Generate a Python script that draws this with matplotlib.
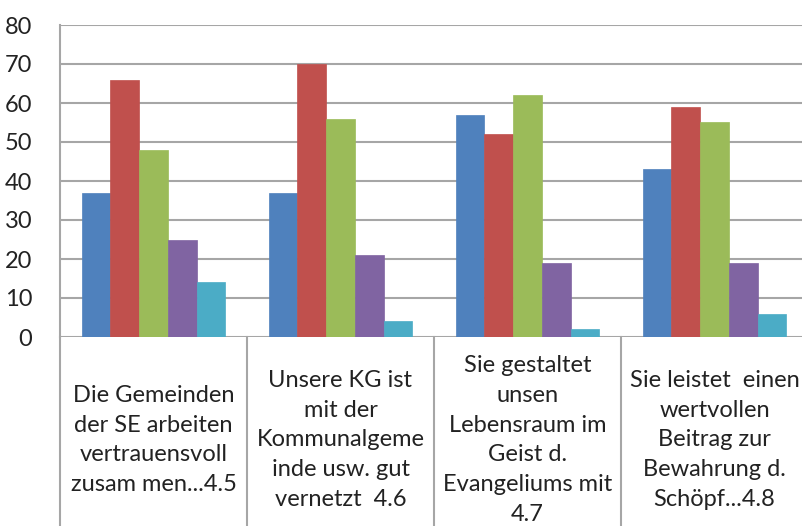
import numpy as np
import matplotlib.pyplot as plt

categories = [
    "Die Gemeinden\nder SE arbeiten\nvertrauensvoll\nzusam men...4.5",
    "Unsere KG ist\nmit der\nKommunalgeme\ninde usw. gut\nvernetzt  4.6",
    "Sie gestaltet\nunsen\nLebensraum im\nGeist d.\nEvangeliums mit\n4.7",
    "Sie leistet  einen\nwertvollen\nBeitrag zur\nBewahrung d.\nSchöpf...4.8",
]
blue = [37, 37, 57, 43]
red = [66, 70, 52, 59]
green = [48, 56, 62, 55]
purple = [25, 21, 19, 19]
cyan = [14, 4, 2, 6]
yticks = [0, 10, 20, 30, 40, 50, 60, 70, 80]

series = [blue, red, green, purple, cyan]
colors = ["#4F81BD", "#C0504D", "#9BBB59", "#8064A2", "#4BACC6"]

plt.rcParams['font.family'] = ['Lato', 'DejaVu Sans']

W, H = 802, 526
fig = plt.figure(figsize=(W / 100, H / 100), dpi=100)
# plot area runs past the right edge like in the source screenshot
ax = fig.add_axes([60 / W, (H - 337) / H, 748 / W, 312 / H])

grid_col = "#a6a6a6"
x = np.arange(len(categories))
bw = 0.77 / len(series)
for j, (vals, c) in enumerate(zip(series, colors)):
    ax.bar(x + (j - 2) * bw, vals, width=bw, color=c, edgecolor=c,
           linewidth=0.5, zorder=3)

ax.set_ylim(0, 80)
ax.set_xlim(-0.5, len(categories) - 0.5)
ax.set_yticks(yticks)
ax.set_yticklabels([str(t) for t in yticks], fontsize=17, color="#222222")
ax.tick_params(axis='y', length=0, pad=20)
ax.set_xticks([])
for y in yticks:
    ax.axhline(y, color=grid_col, lw=1.5, zorder=1)

for s in ["top", "right", "bottom"]:
    ax.spines[s].set_visible(False)
ax.spines["left"].set_color(grid_col)
ax.spines["left"].set_linewidth(1.5)

# category boxes below the axis
tr = ax.get_xaxis_transform()
depth = -(H - 337) / 312
for b in np.arange(-0.5, len(categories), 1.0):
    ax.plot([b, b], [0, depth], transform=tr, color=grid_col, lw=1.5,
            clip_on=False)
for i, lab in enumerate(categories):
    ax.text(i, -0.33, lab, transform=tr, ha="center", va="center",
            fontsize=17, color="#222222", linespacing=1.52)

fig.savefig("out.png", dpi=100)
